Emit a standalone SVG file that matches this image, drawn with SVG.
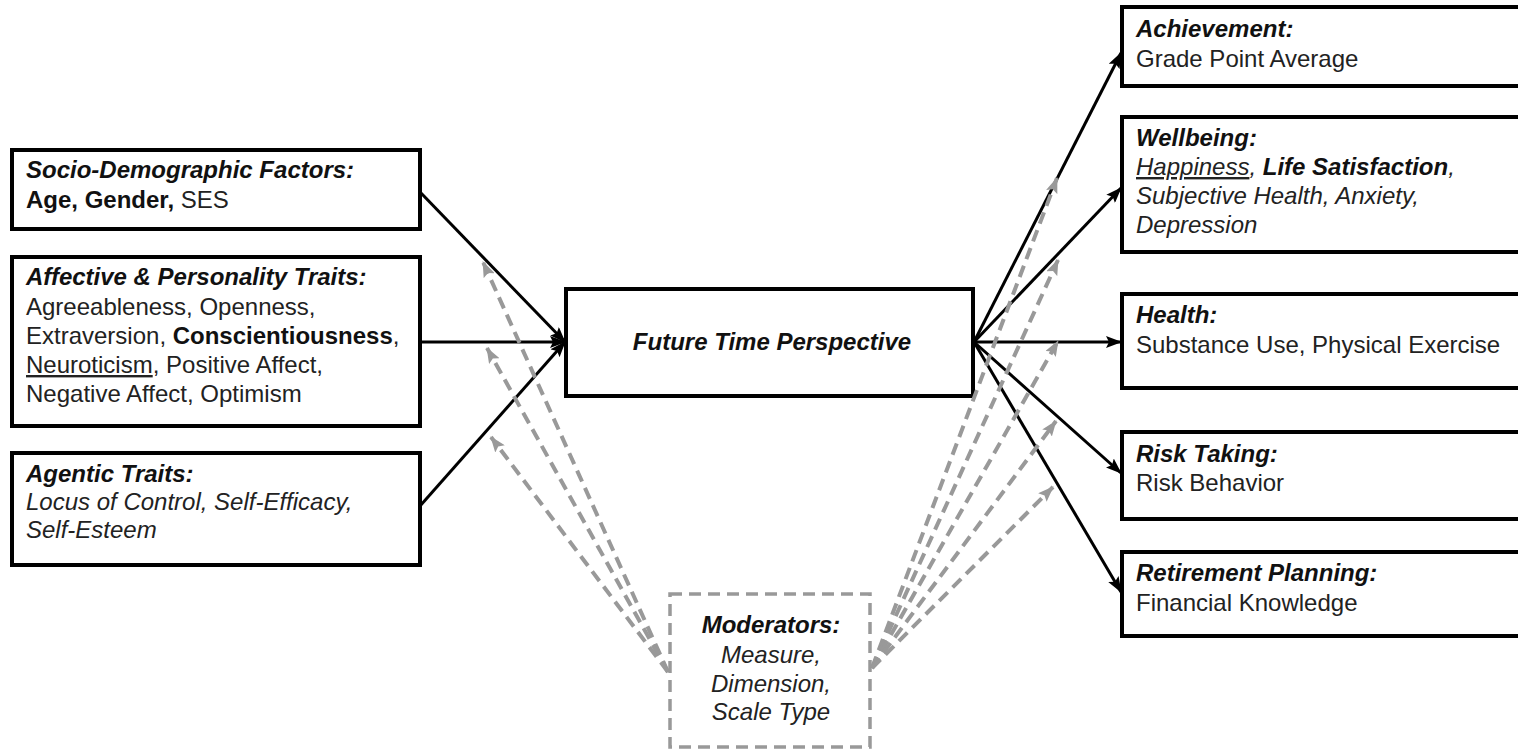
<svg xmlns="http://www.w3.org/2000/svg" width="1518" height="750" viewBox="0 0 1518 750">
<style>
text{font-family:"Liberation Sans",Arial,Helvetica,sans-serif;font-size:24px;fill:#222}
.t{font-weight:bold;font-style:italic;fill:#111}
.b{font-weight:bold;fill:#111}
.i{font-style:italic}
.u{text-decoration:underline}
.box{fill:#fff;stroke:#000;stroke-width:4}
.mod{fill:#fff;stroke:#999;stroke-width:3.5;stroke-dasharray:12 7}
.sl{stroke:#000;stroke-width:3;fill:none}
.dl{stroke:#999;stroke-width:4;stroke-dasharray:12 7;fill:none}
</style>
<defs>
<marker id="ab" markerUnits="userSpaceOnUse" markerWidth="16" markerHeight="12" refX="15" refY="6" orient="auto"><path d="M0,0 L16,6 L0,12 L3,6 z" fill="#000"/></marker>
<marker id="ag" markerUnits="userSpaceOnUse" markerWidth="16" markerHeight="12" refX="15" refY="6" orient="auto"><path d="M0,0 L16,6 L0,12 L3,6 z" fill="#999"/></marker>
</defs>

<g id="n-socio">
<rect class="box" x="12" y="150" width="408" height="79"/>
<text x="26" y="178" class="t">Socio-Demographic Factors:</text>
<text x="26" y="208"><tspan class="b">Age, Gender,</tspan> SES</text>
</g>
<g id="n-affective">
<rect class="box" x="12" y="257" width="408" height="169"/>
<text x="26" y="285" class="t">Affective &amp; Personality Traits:</text>
<text x="26" y="315">Agreeableness, Openness,</text>
<text x="26" y="344">Extraversion, <tspan class="b">Conscientiousness</tspan>,</text>
<text x="26" y="373"><tspan class="u">Neuroticism</tspan>, Positive Affect,</text>
<text x="26" y="402">Negative Affect, Optimism</text>
</g>
<g id="n-agentic">
<rect class="box" x="12" y="453" width="408" height="112"/>
<text x="26" y="482" class="t">Agentic Traits:</text>
<text x="26" y="510" class="i">Locus of Control, Self-Efficacy,</text>
<text x="26" y="538" class="i">Self-Esteem</text>
</g>
<g id="n-ftp">
<rect class="box" x="566" y="289" width="407" height="107"/>
<text x="772" y="350" class="t" text-anchor="middle">Future Time Perspective</text>
</g>
<g id="n-achievement">
<rect class="box" x="1122" y="7" width="420" height="79"/>
<text x="1136" y="37" class="t">Achievement:</text>
<text x="1136" y="67">Grade Point Average</text>
</g>
<g id="n-wellbeing">
<rect class="box" x="1122" y="117" width="420" height="135"/>
<text x="1136" y="146" class="t">Wellbeing:</text>
<text x="1136" y="175" class="i"><tspan class="u">Happiness</tspan>, <tspan class="b">Life Satisfaction</tspan>,</text>
<text x="1136" y="204" class="i">Subjective Health, Anxiety,</text>
<text x="1136" y="233" class="i">Depression</text>
</g>
<g id="n-health">
<rect class="box" x="1122" y="294" width="420" height="94"/>
<text x="1136" y="323" class="t">Health:</text>
<text x="1136" y="353">Substance Use, Physical Exercise</text>
</g>
<g id="n-risk">
<rect class="box" x="1122" y="432" width="420" height="87"/>
<text x="1136" y="462" class="t">Risk Taking:</text>
<text x="1136" y="491">Risk Behavior</text>
</g>
<g id="n-retirement">
<rect class="box" x="1122" y="552" width="420" height="84"/>
<text x="1136" y="581" class="t">Retirement Planning:</text>
<text x="1136" y="611">Financial Knowledge</text>
</g>
<g id="n-moderators">
<rect class="mod" x="670" y="594" width="200" height="153"/>
<text x="771" y="633" class="t" text-anchor="middle">Moderators:</text>
<text x="771" y="663" class="i" text-anchor="middle">Measure,</text>
<text x="771" y="692" class="i" text-anchor="middle">Dimension,</text>
<text x="771" y="720" class="i" text-anchor="middle">Scale Type</text>
</g>

<g id="connectors">
<line class="sl" x1="420" y1="192" x2="565" y2="342" marker-end="url(#ab)"/>
<line class="sl" x1="420" y1="342" x2="565" y2="342" marker-end="url(#ab)"/>
<line class="sl" x1="420" y1="506" x2="565" y2="342" marker-end="url(#ab)"/>
<line class="sl" x1="974" y1="342" x2="1121" y2="53" marker-end="url(#ab)"/>
<line class="sl" x1="974" y1="342" x2="1121" y2="188" marker-end="url(#ab)"/>
<line class="sl" x1="974" y1="342" x2="1121" y2="342" marker-end="url(#ab)"/>
<line class="sl" x1="974" y1="342" x2="1121" y2="473" marker-end="url(#ab)"/>
<line class="sl" x1="974" y1="342" x2="1121" y2="592" marker-end="url(#ab)"/>
<line class="dl" x1="668" y1="672" x2="483" y2="262" marker-end="url(#ag)"/>
<line class="dl" x1="668" y1="672" x2="487" y2="348" marker-end="url(#ag)"/>
<line class="dl" x1="668" y1="672" x2="491" y2="437" marker-end="url(#ag)"/>
<line class="dl" x1="872" y1="668" x2="1057" y2="178" marker-end="url(#ag)"/>
<line class="dl" x1="872" y1="668" x2="1058" y2="260" marker-end="url(#ag)"/>
<line class="dl" x1="872" y1="668" x2="1058" y2="341" marker-end="url(#ag)"/>
<line class="dl" x1="872" y1="668" x2="1056" y2="421" marker-end="url(#ag)"/>
<line class="dl" x1="872" y1="668" x2="1053" y2="487" marker-end="url(#ag)"/>
</g>
</svg>
